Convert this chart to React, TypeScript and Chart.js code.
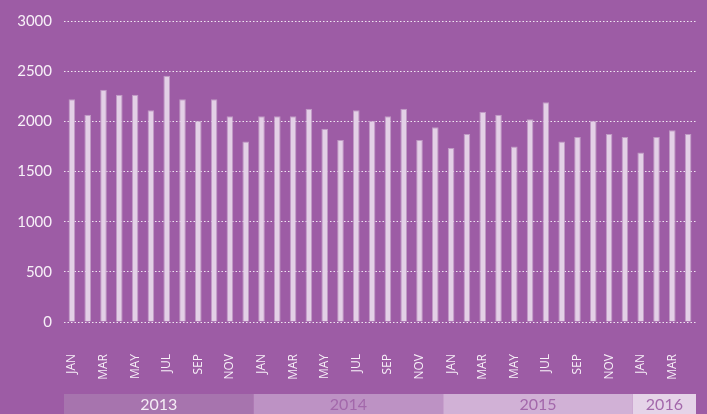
import React, { useEffect, useRef } from "react";
import { Chart, registerables } from "chart.js";

Chart.register(...registerables);

const months = ["JAN","FEB","MAR","APR","MAY","JUN","JUL","AUG","SEP","OCT","NOV","DEC"];
const categories: string[] = [
  ...months, ...months, ...months, "JAN", "FEB", "MAR", "APR",
];
const values2013 = [2220, 2065, 2315, 2265, 2265, 2110, 2455, 2220, 2005, 2220, 2050, 1800];
const values2014 = [2050, 2050, 2050, 2125, 1925, 1815, 2110, 2005, 2050, 2125, 1815, 1940];
const values2015 = [1735, 1875, 2095, 2065, 1750, 2020, 2190, 1800, 1845, 2005, 1875, 1845];
const values2016 = [1690, 1845, 1910, 1875];
const seriesValues = [...values2013, ...values2014, ...values2015, ...values2016];

const years = ["2013", "2014", "2015", "2016"];
const yearMonthCounts = [12, 12, 12, 4];
const yearBandColors = ["#a774ae", "#bd92c4", "#d1b1d6", "#e5d3e8"];
const yearTextColors = ["#f4ecf5", "#a368ab", "#a368ab", "#a368ab"];

const yTicks = [0, 500, 1000, 1500, 2000, 2500, 3000];

const BG = "#9d5ca5";
const FONT = "Lato, 'Open Sans', sans-serif";

const yearBandsPlugin = {
  id: "yearBands",
  afterDraw(chart: any) {
    const x = chart.scales.x;
    const ctx = chart.ctx;
    const n = categories.length;
    const step = (x.right - x.left) / n;
    const top = chart.height - 20;
    const h = 20;
    let start = 0;
    ctx.save();
    years.forEach((yr, i) => {
      const x0 = x.getPixelForValue(start) - step / 2;
      const x1 = x.getPixelForValue(start + yearMonthCounts[i] - 1) + step / 2;
      ctx.fillStyle = yearBandColors[i];
      ctx.fillRect(x0, top, x1 - x0, h);
      ctx.fillStyle = yearTextColors[i];
      ctx.font = `16px ${FONT}`;
      ctx.textAlign = "center";
      ctx.textBaseline = "middle";
      ctx.fillText(yr, (x0 + x1) / 2, top + h / 2 + 1);
      start += yearMonthCounts[i];
    });
    ctx.restore();
  },
};

export default function App() {
  const ref = useRef<HTMLCanvasElement | null>(null);
  useEffect(() => {
    if (!ref.current) return;
    const chart = new Chart(ref.current, {
      type: "bar",
      data: {
        labels: categories,
        datasets: [
          {
            data: seriesValues,
            backgroundColor: "#e3d0e6",
            borderColor: "rgba(195,160,200,0.9)",
            borderWidth: 1,
            barPercentage: 0.42,
            categoryPercentage: 1,
          },
        ],
      },
      options: {
        responsive: false,
        animation: false,
        devicePixelRatio: 1,
        layout: { padding: { left: 0, right: 11, top: 19, bottom: 0 } },
        plugins: {
          legend: { display: false },
          tooltip: { enabled: false },
        },
        scales: {
          x: {
            grid: { display: false, drawTicks: false },
            border: { display: false },
            afterFit: (s: any) => {
              s.height = 92;
              s.paddingLeft = 0;
              s.paddingRight = 0;
            },
            ticks: {
              autoSkip: false,
              maxRotation: 90,
              minRotation: 90,
              padding: 32,
              color: "#f7f0f8",
              font: { family: "'Open Sans', Lato, sans-serif", size: 12 },
              callback: (_v: any, i: number) => (i % 2 === 0 ? categories[i] : ""),
            },
          },
          y: {
            min: 0,
            max: 3000,
            afterFit: (s: any) => {
              s.width = 64;
            },
            afterBuildTicks: (s: any) => {
              s.ticks = yTicks.map((v) => ({ value: v }));
            },
            grid: {
              color: "rgba(255,255,255,0.85)",
              lineWidth: 1,
              drawTicks: false,
            },
            border: { display: false, dash: [1.5, 2] },
            ticks: {
              padding: 12,
              color: "#f7f0f8",
              font: { family: FONT, size: 15 },
              callback: (v: any) => String(v),
            },
          },
        },
      },
      plugins: [yearBandsPlugin],
    });
    return () => chart.destroy();
  }, []);
  return (
    <div
      style={{
        position: "fixed",
        left: 0,
        top: 0,
        width: 707,
        height: 414,
        background: BG,
      }}
    >
      <canvas ref={ref} width={707} height={414} style={{ display: "block" }} />
    </div>
  );
}
